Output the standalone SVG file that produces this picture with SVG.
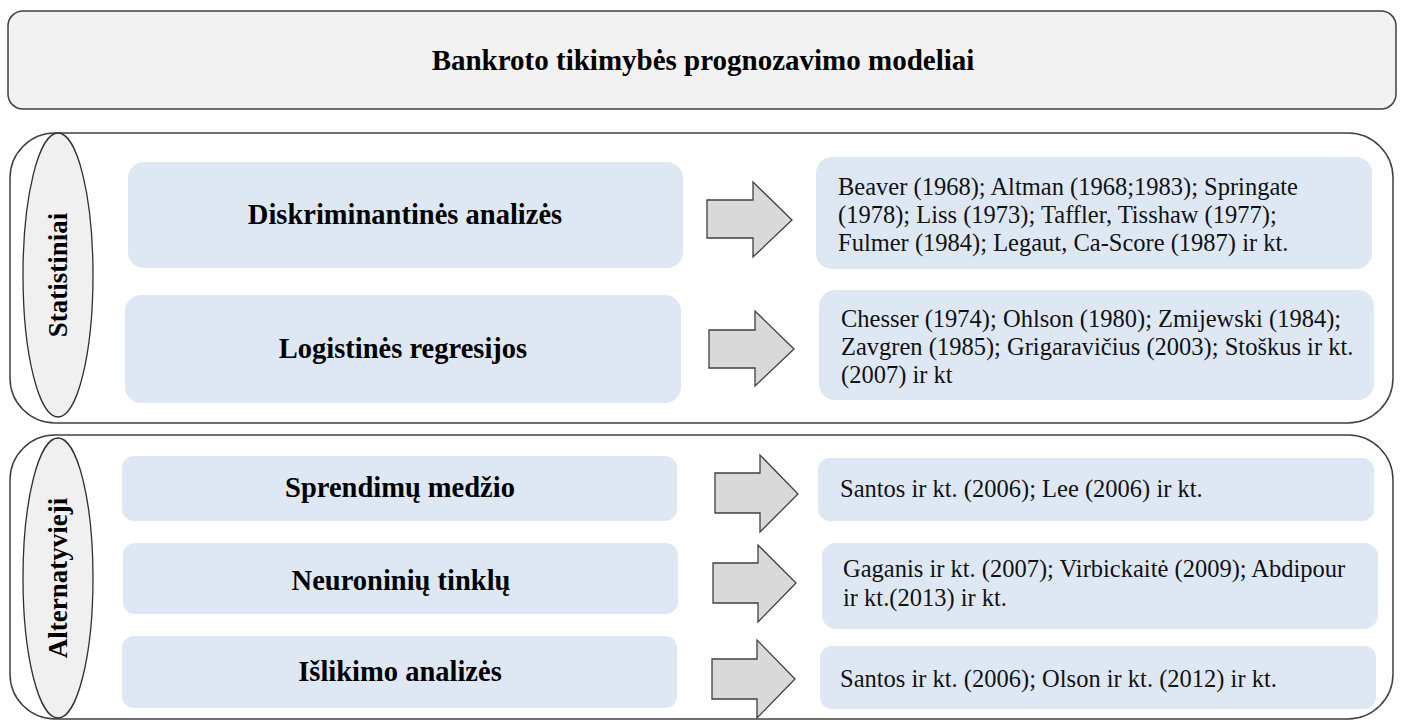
<svg xmlns="http://www.w3.org/2000/svg" width="1402" height="720" viewBox="0 0 1402 720">
<style>
.bg{fill:#ffffff}
.title{fill:#f2f2f2;stroke:#404040;stroke-width:1.5}
.cont{fill:none;stroke:#404040;stroke-width:1.5}
.ell{fill:#f0f0f0;stroke:#303030;stroke-width:1.3}
.lbox{fill:#dee8f4}
.rbox{fill:#dee8f4}
.arrow{fill:#d9d9d9;stroke:#404040;stroke-width:1.3;stroke-linejoin:miter}
.tt{font-family:"Liberation Serif","Times New Roman",serif;font-weight:bold;font-size:29px;fill:#000;text-anchor:middle}
.lt{font-family:"Liberation Serif","Times New Roman",serif;font-weight:bold;font-size:28.5px;fill:#000;text-anchor:middle}
.vt{font-family:"Liberation Serif","Times New Roman",serif;font-weight:bold;font-size:27px;fill:#000;text-anchor:middle}
.bt{font-family:"Liberation Serif","Times New Roman",serif;font-size:24.5px;fill:#111}
</style>
<rect class="bg" x="0" y="0" width="1402" height="720"/>

<g id="title">
<rect class="title" x="8" y="11" width="1388" height="98" rx="15" ry="15"/>
<text class="tt" x="703" y="70">Bankroto tikimybės prognozavimo modeliai</text>
</g>

<g id="statistiniai">
<rect class="cont" x="10" y="133" width="1383" height="290" rx="45" ry="45"/>
<ellipse class="ell" cx="58" cy="275" rx="35" ry="142"/>
<text class="vt" transform="translate(67,275) rotate(-90)" x="0" y="0">Statistiniai</text>
</g>

<g id="alternatyvieji">
<rect class="cont" x="10" y="435" width="1383" height="284" rx="45" ry="45"/>
<ellipse class="ell" cx="58" cy="578" rx="35" ry="140"/>
<text class="vt" transform="translate(67,578) rotate(-90)" x="0" y="0">Alternatyvieji</text>
</g>

<g id="diskriminantines">
<rect class="lbox" x="128" y="162" width="555" height="106" rx="16" ry="16"/>
<text class="lt" x="405" y="224">Diskriminantinės analizės</text>
</g>
<g id="logistines">
<rect class="lbox" x="125" y="295" width="556" height="108" rx="16" ry="16"/>
<text class="lt" x="403" y="358">Logistinės regresijos</text>
</g>
<g id="sprendimu">
<rect class="lbox" x="122" y="456" width="555" height="65" rx="12" ry="12"/>
<text class="lt" x="400" y="497">Sprendimų medžio</text>
</g>
<g id="neuroniniu">
<rect class="lbox" x="123" y="543" width="555" height="71" rx="12" ry="12"/>
<text class="lt" x="401" y="590">Neuroninių tinklų</text>
</g>
<g id="islikimo">
<rect class="lbox" x="122" y="636" width="555" height="72" rx="12" ry="12"/>
<text class="lt" x="400" y="681">Išlikimo analizės</text>
</g>

<g id="r1">
<rect class="rbox" x="816" y="157" width="556" height="112" rx="16" ry="16"/>
<text class="bt" x="838" y="195">Beaver (1968); Altman (1968;1983); Springate</text>
<text class="bt" x="838" y="223">(1978); Liss (1973); Taffler, Tisshaw (1977);</text>
<text class="bt" x="838" y="251">Fulmer (1984); Legaut, Ca-Score (1987) ir kt.</text>
</g>
<g id="r2">
<rect class="rbox" x="819" y="290" width="555" height="110" rx="16" ry="16"/>
<text class="bt" x="841" y="327">Chesser (1974); Ohlson (1980); Zmijewski (1984);</text>
<text class="bt" x="841" y="355">Zavgren (1985); Grigaravičius (2003); Stoškus ir kt.</text>
<text class="bt" x="841" y="383">(2007) ir kt</text>
</g>
<g id="r3">
<rect class="rbox" x="818" y="458" width="556" height="63" rx="12" ry="12"/>
<text class="bt" x="840" y="497">Santos ir kt. (2006); Lee (2006) ir kt.</text>
</g>
<g id="r4">
<rect class="rbox" x="822" y="543" width="556" height="86" rx="14" ry="14"/>
<text class="bt" x="843" y="577">Gaganis ir kt. (2007); Virbickaitė (2009); Abdipour</text>
<text class="bt" x="843" y="606">ir kt.(2013) ir kt.</text>
</g>
<g id="r5">
<rect class="rbox" x="820" y="646" width="556" height="63" rx="12" ry="12"/>
<text class="bt" x="840" y="687">Santos ir kt. (2006); Olson ir kt. (2012) ir kt.</text>
</g>

<g id="connectors">
<polygon class="arrow" points="707,200 753,200 753,182 792,220 753,257 753,238 707,238"/>
<polygon class="arrow" points="709,330 755,330 755,311 794,349 755,386 755,368 709,368"/>
<polygon class="arrow" points="715,473 760,473 760,455 798,494 760,532 760,513 715,513"/>
<polygon class="arrow" points="713,563 758,563 758,545 796,583 758,622 758,603 713,603"/>
<polygon class="arrow" points="712,659 757,659 757,640 795,679 757,718 757,699 712,699"/>
</g>
</svg>
